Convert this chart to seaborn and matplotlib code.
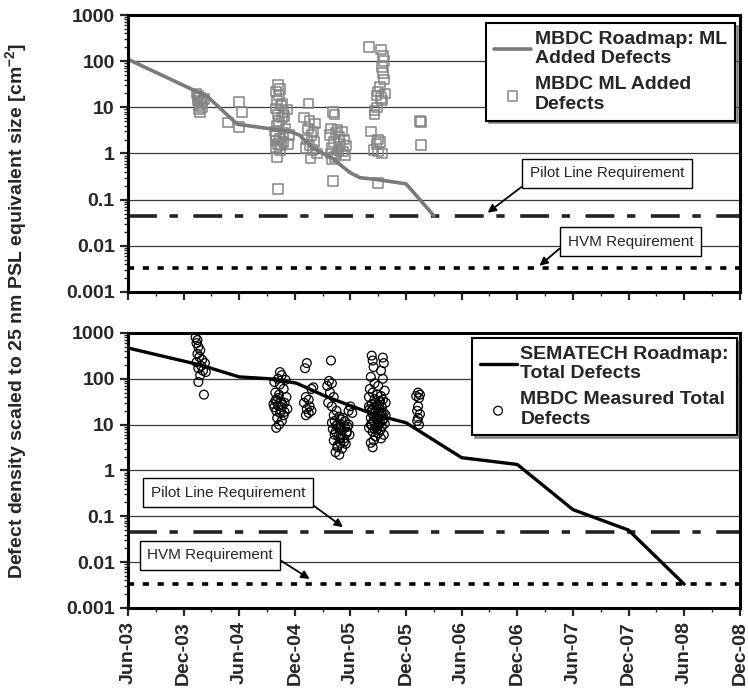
import matplotlib
matplotlib.use('Agg')
import matplotlib.pyplot as plt
import matplotlib.ticker as mticker
import seaborn as sns

sns.set_style('white')
plt.rcParams['font.family'] = ['Liberation Sans', 'DejaVu Sans']
plt.rcParams['mathtext.fontset'] = 'custom'
plt.rcParams['mathtext.rm'] = 'Liberation Sans'
plt.rcParams['mathtext.bf'] = 'Liberation Sans:bold'

# ── Data (x = months after Jun-03) ───────────────────────────────────────────
tick_labels = ['Jun-03', 'Dec-03', 'Jun-04', 'Dec-04', 'Jun-05', 'Dec-05',
               'Jun-06', 'Dec-06', 'Jun-07', 'Dec-07', 'Jun-08', 'Dec-08']
tick_months = [0, 6, 12, 18, 24, 30, 36, 42, 48, 54, 60, 66]

ml_road_month = [0, 8.6, 11.8, 17.5, 18.5, 20, 22, 24, 25, 27, 30, 33]
ml_road_value = [110, 17, 4.3, 3.0, 2.5, 1.3, 0.8, 0.38, 0.30, 0.27, 0.22, 0.045]

ml_added_month = [
    7.4, 7.6, 7.8, 7.5, 7.9, 7.6, 8.0, 7.7, 7.8, 8.2, 7.5, 8.0,
    12.0, 12.3, 10.8, 12.0,
    16.2, 16.4, 16.0, 16.3, 16.1, 16.5, 16.0, 17.2, 16.8, 16.2, 16.6, 16.3,
    15.8, 16.7, 16.0, 16.4, 15.9, 16.8, 16.2, 16.5, 17.3, 16.0, 16.4, 16.1,
    16.2, 17.4, 17.0, 16.6, 16.9, 16.1,
    19.5, 19.0, 19.6, 20.2, 19.4, 20.0, 19.8, 19.3, 20.1, 19.6, 19.2, 19.9,
    20.4, 19.7,
    22.1, 22.3, 21.9, 22.6, 23.1, 22.4, 21.8, 22.8, 23.3, 22.2, 22.9, 23.5,
    22.0, 22.7, 23.2, 21.9, 22.5, 23.4, 22.3, 22.0, 22.1,
    26.0, 27.3, 27.5, 27.6, 27.4, 27.5, 27.6, 27.2, 27.0, 27.7, 26.8, 27.3,
    27.4, 26.9, 26.6, 26.6, 26.2, 27.0, 27.2, 26.8, 26.5, 27.0, 27.4, 27.0,
    31.5, 31.6, 31.6,
]
ml_added_value = [
    20, 18, 16, 14, 12.5, 11, 10, 9, 8, 15, 17, 13,
    13, 7.8, 4.7, 3.7,
    30, 25, 22, 18, 14, 11, 9.5, 9, 8, 7, 6, 5,
    3, 2.8, 2.4, 2.1, 1.9, 1.8, 1.6, 1.5, 1.6, 1.3, 1.2, 0.85,
    0.17, 2.5, 3.5, 12, 6.5, 4,
    12, 6, 5, 4.5, 3.5, 3, 2.5, 2, 1.8, 1.5, 1.3, 1.2,
    1.0, 0.8,
    8, 7, 3.5, 3.2, 3, 2.8, 2.5, 2.3, 2, 1.8, 1.6, 1.5,
    1.3, 1.2, 1.1, 1.0, 0.95, 0.9, 0.85, 0.75, 0.25,
    200, 180, 130, 100, 75, 55, 40, 28, 22, 20, 18, 16,
    14, 10, 8.5, 7, 3, 2, 1.8, 1.6, 1.2, 1.1, 1.0, 0.23,
    5, 4.8, 1.55,
]

sem_road_month = [0, 7.8, 12, 15.3, 18.2, 21.5, 25.8, 28, 30, 36, 42, 48, 54, 60]
sem_road_value = [470, 200, 110, 100, 80, 40, 19, 14, 11, 1.9, 1.35, 0.14, 0.05, 0.0033]

total_month = [
    7.3, 7.5, 7.4, 7.6, 7.8, 7.5, 7.7, 8.0, 7.4, 8.3, 7.9, 7.6, 8.1, 8.4,
    7.8, 7.6, 8.2,
    16.4, 16.6, 16.2, 17.0, 15.8, 16.4, 16.8, 15.9, 16.3, 17.1, 16.0, 16.5,
    16.9, 15.7, 16.2, 16.6, 17.2, 16.0, 16.4, 16.8, 16.1, 16.6, 16.3, 16.0,
    15.9, 16.7, 16.2, 16.9, 16.5, 15.8,
    19.3, 19.1, 20.0, 19.8, 19.2, 19.5, 19.0, 19.6, 19.3, 19.8, 19.5, 19.2,
    21.9, 21.7, 22.0, 21.5, 21.8, 22.2, 21.6, 22.0, 24.0, 23.8, 24.2, 22.5,
    22.8, 23.2, 22.3, 22.6, 23.0, 23.4, 22.1, 22.9, 23.6, 22.4, 23.0, 22.7,
    23.3, 22.2, 22.9, 23.5, 22.6, 23.1, 22.4, 22.8, 23.4, 23.7, 23.9,
    22.0, 22.5, 23.1, 23.6, 22.3, 22.9, 23.3, 22.6, 23.0, 22.2, 23.8, 22.7,
    26.3, 27.5, 26.4, 27.6, 26.5, 27.3, 26.2, 27.5, 26.6, 27.0, 26.1, 27.7,
    26.4, 26.9, 27.3, 26.0, 26.6, 27.2, 27.8, 26.3, 26.8, 27.4, 26.1, 26.7,
    27.1, 27.6, 26.4, 26.9, 27.3, 26.2, 26.8, 27.5, 26.5, 27.0, 27.7, 26.3,
    26.9, 27.4, 26.0, 26.6, 27.2, 26.4, 27.0, 27.6, 26.7, 27.3, 26.5, 26.2,
    26.4, 27.5, 26.0, 27.8,
    26.7, 27.1, 26.3, 27.4, 26.9, 26.5, 27.2, 26.8, 27.0, 26.4, 27.3, 26.6,
    27.5, 26.2, 26.9, 27.1,
    31.3, 31.5, 31.1, 31.4, 31.3, 31.2, 31.5, 31.3, 31.2, 31.4,
]
total_value = [
    800, 700, 600, 500, 420, 350, 300, 260, 230, 220, 190, 170, 150, 140,
    120, 85, 45,
    140, 120, 100, 95, 85, 75, 60, 50, 45, 40, 35, 32,
    30, 28, 26, 24, 22, 20, 18, 16, 14, 12, 10, 8.5,
    33, 27, 38, 19, 21, 24,
    220, 170, 65, 60, 40, 35, 30, 25, 22, 20, 18, 16,
    250, 90, 80, 70, 50, 40, 30, 25, 25, 20, 18, 20,
    15, 14, 12, 10, 10, 9, 8, 8, 7, 7, 6, 5.5,
    5, 4.5, 4, 3.8, 3.2, 3, 2.5, 2.2, 12, 9, 6,
    11, 9.5, 7.5, 6.5, 6, 5, 4.2, 3.5, 13, 16, 10, 8.5,
    320, 290, 250, 220, 180, 150, 110, 100, 80, 70, 60, 55,
    50, 45, 42, 40, 36, 33, 30, 28, 26, 24, 22, 20,
    19, 18, 17, 16, 15, 14, 13, 12.5, 12, 11, 10.5, 10,
    9.5, 9, 8.5, 8, 7.5, 7, 6.5, 6, 5.5, 5, 4.5, 4,
    3.2, 35, 25, 16,
    30, 24, 20, 17, 14, 12, 11, 9, 27, 22, 18, 15,
    13, 10, 8, 32,
    50, 45, 42, 38, 25, 20, 17, 14, 12, 10,
]

pilot_req = 0.045
hvm_req = 0.0033

# ── Figure ───────────────────────────────────────────────────────────────────
fig = plt.figure(figsize=(7.48, 6.98), dpi=100)
ax1 = fig.add_axes([0.171, 0.5817, 0.818, 0.3968])
ax2 = fig.add_axes([0.171, 0.129, 0.818, 0.394])

sns.lineplot(x=ml_road_month, y=ml_road_value, ax=ax1, color='#7a7a7a', lw=2.6,
             estimator=None, sort=False, label='MBDC Roadmap: ML\nAdded Defects')
sns.scatterplot(x=ml_added_month, y=ml_added_value, ax=ax1, marker='s', s=48,
                facecolor='none', edgecolor='#858585', linewidth=1.1,
                label='MBDC ML Added\nDefects')

sns.lineplot(x=sem_road_month, y=sem_road_value, ax=ax2, color='black', lw=2.4,
             estimator=None, sort=False, label='SEMATECH Roadmap:\nTotal Defects')
sns.scatterplot(x=total_month, y=total_value, ax=ax2, marker='o', s=40,
                facecolor='none', edgecolor='black', linewidth=0.9,
                label='MBDC Measured Total\nDefects')

for ax in (ax1, ax2):
    ax.axhline(pilot_req, color='#222222', lw=2.6, dashes=(8, 3.5, 2.3, 4.3), zorder=1)
    ax.axhline(hvm_req, color='black', lw=2.6, dashes=(1.7, 2.4), zorder=1)
    ax.set_yscale('log')
    ax.set_ylim(0.001, 1000)
    ax.set_xlim(0, 66)
    ax.set_yticks([0.001, 0.01, 0.1, 1, 10, 100, 1000])
    ax.yaxis.set_major_formatter(mticker.FuncFormatter(lambda v, p: f'{v:g}'))
    ax.yaxis.set_minor_locator(mticker.LogLocator(base=10, subs=range(2, 10)))
    ax.yaxis.set_minor_formatter(mticker.NullFormatter())
    ax.set_xticks(tick_months)
    ax.set_xticks(range(3, 66, 6), minor=True)
    ax.yaxis.grid(True, which='major', color='#3a3a3a', lw=0.9)
    ax.xaxis.grid(False)
    ax.set_axisbelow(True)
    for s in ax.spines.values():
        s.set_linewidth(2.2)
        s.set_color('black')
    ax.tick_params(axis='both', which='major', direction='out', length=6, width=1.6,
                   labelsize=14, bottom=True, left=True)
    ax.tick_params(axis='both', which='minor', direction='out', length=3, width=1,
                   bottom=True, left=True)
    for lab in ax.get_yticklabels():
        lab.set_fontweight('bold')
    ax.set_xlabel('')
    ax.set_ylabel('')

ax1.tick_params(labelbottom=False)
ax2.set_xticklabels(tick_labels, rotation=90, fontsize=14, fontweight='bold')

leg_kw = dict(loc='upper right', borderaxespad=0, frameon=True, fancybox=False,
              shadow=True, framealpha=1, edgecolor='black', handlelength=1.9,
              handletextpad=0.2, labelspacing=0.45, borderpad=0.4,
              prop={'size': 14, 'weight': 'bold'})
leg1 = ax1.legend(bbox_to_anchor=(0.992, 0.971), **leg_kw)
leg2 = ax2.legend(bbox_to_anchor=(0.995, 0.982), **leg_kw)
for leg in (leg1, leg2):
    leg.get_frame().set_linewidth(1.5)

box = dict(boxstyle='square,pad=0.5', fc='white', ec='black', lw=1)

def note(ax, text, tip, center, rel):
    ax.annotate(text, xy=tip, xytext=center, ha='center', va='center', fontsize=11,
                bbox=box, zorder=5,
                arrowprops=dict(arrowstyle='-|>', color='black', lw=1.3,
                                relpos=rel, shrinkA=0, shrinkB=0,
                                mutation_scale=12))

note(ax1, 'Pilot Line Requirement', (38.8, 0.052), (51.7, 0.37), (0, 0))
note(ax1, 'HVM Requirement', (44.4, 0.0037), (54.2, 0.0123), (0, 0.5))
note(ax2, 'Pilot Line Requirement', (23.2, 0.058), (10.8, 0.33), (1, 0))
note(ax2, 'HVM Requirement', (19.6, 0.0043), (8.85, 0.014), (1, 0.5))

fig.text(0.022, 0.555,
         'Defect density scaled to 25 nm PSL equivalent size [cm$^{\\mathbf{-2}}$]',
         rotation=90, ha='center', va='center', fontsize=14, fontweight='bold')

plt.savefig('out.png', dpi=100)
